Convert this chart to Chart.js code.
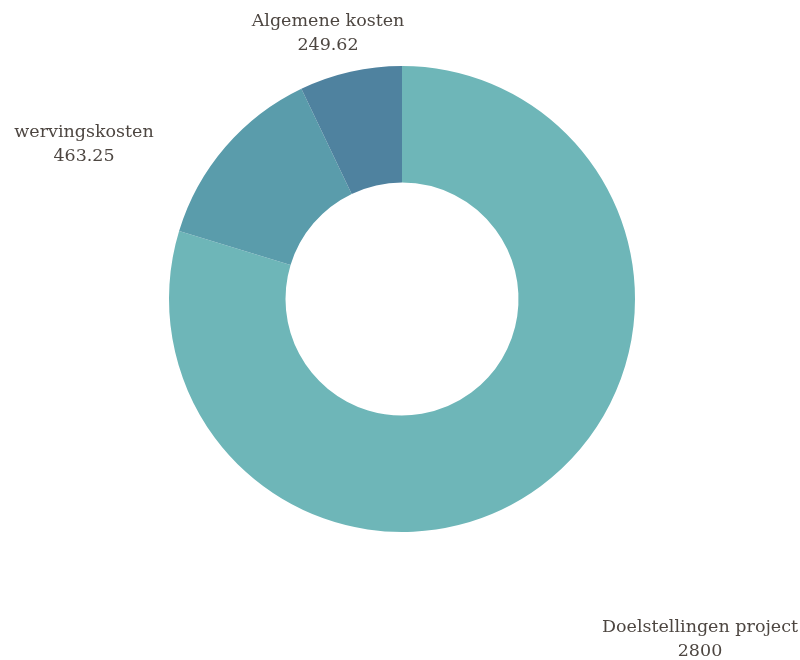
<!DOCTYPE html>
<html lang="nl">
<head>
    <meta charset="UTF-8">
    <title>Kostenverdeling</title>
    <script src="https://cdn.jsdelivr.net/npm/chart.js"></script>
    <style>
        body {
            margin: 0;
            background: #ffffff;
        }
        .wrap {
            width: 800px;
            height: 660px;
            position: relative;
        }
    </style>
</head>
<body>
    <div class="wrap">
        <canvas id="costChart"></canvas>
    </div>

    <script>
        const categories = ["Doelstellingen project", "wervingskosten", "Algemene kosten"];
        const amounts = [2800, 463.25, 249.62];
        const sliceColors = ["#6eb6b8", "#5a9cab", "#4f829f"];

        // where each outside label sits (centre of the two-line block)
        const labelSpots = [
            { x: 700, y: 639 },
            { x: 84, y: 144 },
            { x: 328, y: 33 }
        ];

        const outsideLabels = {
            id: "outsideLabels",
            afterDraw(chart) {
                const ctx = chart.ctx;
                const ds = chart.data.datasets[0];
                ctx.save();
                ctx.font = "17.5px 'DejaVu Serif', serif";
                ctx.fillStyle = "#4d4641";
                ctx.textAlign = "center";
                ctx.textBaseline = "middle";
                chart.data.labels.forEach((lbl, i) => {
                    const p = labelSpots[i];
                    ctx.fillText(lbl, p.x, p.y - 12);
                    ctx.fillText(String(ds.data[i]), p.x, p.y + 12);
                });
                ctx.restore();
            }
        };

        const ctx = document.getElementById("costChart").getContext("2d");
        new Chart(ctx, {
            type: "doughnut",
            data: {
                labels: categories,
                datasets: [{
                    data: amounts,
                    backgroundColor: sliceColors,
                    borderWidth: 0,
                    hoverOffset: 0
                }]
            },
            options: {
                responsive: true,
                maintainAspectRatio: false,
                animation: false,
                cutout: "50%",
                layout: {
                    padding: { top: 66, bottom: 128, left: 169, right: 165 }
                },
                plugins: {
                    legend: { display: false },
                    tooltip: { enabled: false }
                }
            },
            plugins: [outsideLabels]
        });
    </script>
</body>
</html>
